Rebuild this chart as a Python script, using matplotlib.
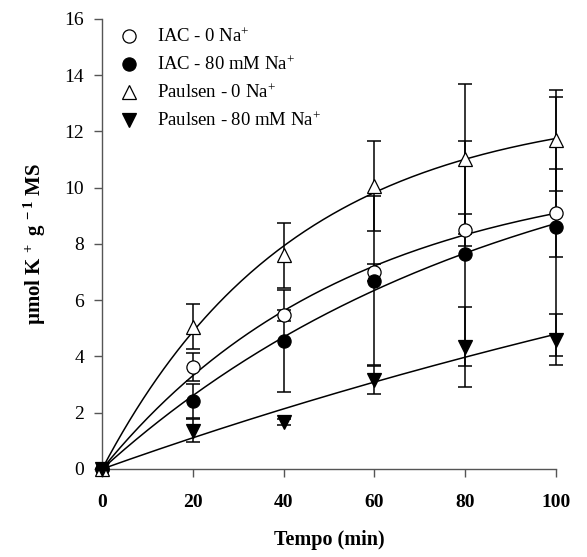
import numpy as np
import matplotlib
matplotlib.use("Agg")
import matplotlib.pyplot as plt

plt.rcParams['font.family'] = ['Liberation Serif', 'DejaVu Serif']
plt.rcParams['mathtext.fontset'] = 'custom'
plt.rcParams['mathtext.rm'] = 'Liberation Serif'
plt.rcParams['mathtext.bf'] = 'Liberation Serif:bold'
plt.rcParams['mathtext.default'] = 'rm'

tempo = [0, 20, 40, 60, 80, 100]

iac_0 = [0, 3.63, 5.46, 6.99, 8.51, 9.09]
iac_0_err = [0, 0.5, 0.2, 0.3, 0.57, 1.57]

iac_80 = [0, 2.42, 4.55, 6.70, 7.66, 8.62]
iac_80_err = [0, 0.6, 1.8, 3.0, 4.0, 4.6]

paulsen_0 = [0, 5.05, 7.59, 10.07, 11.03, 11.69]
paulsen_0_err = [0, 0.8, 1.15, 1.6, 2.66, 1.8]

paulsen_80 = [0, 1.36, 1.68, 3.16, 4.33, 4.60]
paulsen_80_err = [0, 0.4, 0.1, 0.5, 1.43, 0.9]


def fit_rise(x, y):
    # least squares fit of y = a*(1-exp(-b*x))
    x = np.asarray(x, float)
    y = np.asarray(y, float)
    best = None
    for b in np.linspace(0.0005, 0.2, 4000):
        f = 1 - np.exp(-b * x)
        a = np.sum(y * f) / np.sum(f * f)
        sse = np.sum((y - a * f) ** 2)
        if best is None or sse < best[0]:
            best = (sse, a, b)
    return best[1], best[2]


def plotChart():
    fig = plt.figure(figsize=(5.87, 5.57), dpi=100)
    ax = fig.add_axes([0.174, 0.158, 0.773, 0.808])

    series = [
        (iac_0, iac_0_err, 'o', 'white', 'IAC - 0 Na$^{+}$'),
        (iac_80, iac_80_err, 'o', 'black', 'IAC - 80 mM Na$^{+}$'),
        (paulsen_0, paulsen_0_err, '^', 'white', 'Paulsen - 0 Na$^{+}$'),
        (paulsen_80, paulsen_80_err, 'v', 'black', 'Paulsen - 80 mM Na$^{+}$'),
    ]

    xs = np.linspace(0, 100, 200)
    for vals, err, mk, fc, lab in series:
        a, b = fit_rise(tempo, vals)
        ax.plot(xs, a * (1 - np.exp(-b * xs)), color='black', lw=1.1, zorder=2)
        ax.errorbar(tempo, vals, yerr=err, fmt='none', ecolor='black',
                    elinewidth=1.1, capsize=5, capthick=1.1, zorder=3, clip_on=False)
        ax.plot(tempo, vals, linestyle='none', marker=mk, markersize=9.5,
                markerfacecolor=fc, markeredgecolor='black', markeredgewidth=0.9,
                label=lab, zorder=4, clip_on=False)

    ax.set_xlim(0, 100)
    ax.set_ylim(0, 16)
    ax.set_xticks([0, 20, 40, 60, 80, 100])
    ax.set_yticks(range(0, 17, 2))
    for s in ['top', 'right']:
        ax.spines[s].set_visible(False)
    for s in ['left', 'bottom']:
        ax.spines[s].set_color('#555555')
        ax.spines[s].set_linewidth(1.0)
    ax.tick_params(direction='out', length=6, width=1.0, color='#555555')
    ax.tick_params(axis='y', labelsize=14, pad=7)
    ax.tick_params(axis='x', labelsize=14, pad=12)
    for t in ax.get_xticklabels():
        t.set_fontweight('bold')

    ax.set_xlabel('Tempo (min)', fontsize=14.5, fontweight='bold', labelpad=14)
    ax.set_ylabel(r'µmol K$\mathbf{^{\,+}}$ g$\mathbf{^{\,-1}}$ MS', fontsize=15,
                  fontweight='bold', labelpad=12)

    ax.legend(loc='upper left', bbox_to_anchor=(-0.01, 1.01), frameon=False,
              fontsize=13.5, handletextpad=0.45, labelspacing=0.5, borderaxespad=0.3)

    fig.savefig('out.png', dpi=100)


def main():
    plotChart()

if __name__ == "__main__":
    main()
